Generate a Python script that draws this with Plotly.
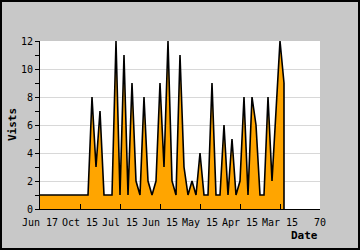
import plotly.graph_objects as go

# Data
visits = [1, 1, 1, 1, 1, 1, 1, 1, 1, 1, 1, 1, 1,
          8, 3, 7, 1, 1, 1, 12, 1, 11, 1, 9, 2, 1,
          8, 2, 1, 2, 9, 3, 12, 2, 1, 11, 3, 1, 2, 1,
          4, 1, 1, 9, 1, 1, 6, 1, 5, 1, 2, 8, 1, 8,
          6, 1, 1, 8, 2, 7, 12, 9]
day_index = list(range(len(visits)))
tick_positions = [0, 10, 20, 30, 40, 50, 60, 70]
tick_labels = ["Jun 17", "Oct 15", "Jul 15", "Jun 15", "May 15", "Apr 15", "Mar 15", "70"]

MONO = "DejaVu Sans Mono"

# close the area with a drop to zero at the last point
xs = day_index + [day_index[-1]]
ys = visits + [0]

fig = go.Figure()
fig.add_trace(go.Scatter(
    x=xs, y=ys, mode="lines", fill="tozeroy",
    fillcolor="#FFA500", line=dict(color="black", width=1.6),
    hoverinfo="skip"))

W, H = 360, 250
L, R, T, B = 40, 40, 41, 41
pw, ph = W - L - R, H - T - B

def px2x(px):
    return (px - L) / pw

def py2y(py):
    return (H - B - py) / ph

fig.update_layout(
    width=W, height=H,
    margin=dict(l=L, r=R, t=T, b=B),
    paper_bgcolor="#c8c8c8", plot_bgcolor="white",
    showlegend=False,
    font=dict(family=MONO, size=10, color="black"),
    xaxis=dict(range=[0, 70], tickvals=tick_positions, ticktext=tick_labels,
               ticks="inside", ticklen=5, tickcolor="black", tickwidth=1,
               ticklabelstandoff=4,
               showline=True, linecolor="black", linewidth=1,
               showgrid=False, zeroline=False, fixedrange=True,
               tickfont=dict(family=MONO, size=10, color="black")),
    yaxis=dict(range=[0, 12], tick0=0, dtick=2,
               ticks="outside", ticklen=4, tickcolor="black", tickwidth=1,
               minor=dict(dtick=1, ticks="outside", ticklen=4, tickcolor="black", showgrid=False),
               showline=True, linecolor="black", linewidth=1,
               showgrid=True, gridcolor="#d8d8d8", gridwidth=1,
               zeroline=False, fixedrange=True,
               tickfont=dict(family=MONO, size=10, color="black")),
    annotations=[
        dict(text="<b>Vists</b>", xref="paper", yref="paper",
             x=px2x(12), y=0.5, textangle=-90, showarrow=False,
             xanchor="center", yanchor="middle",
             font=dict(family=MONO, size=11, color="black")),
        dict(text="<b>Date</b>", xref="paper", yref="paper",
             x=1.0, y=py2y(235.5), showarrow=False,
             xanchor="right", yanchor="middle",
             font=dict(family=MONO, size=11, color="black")),
    ],
    shapes=[
        dict(type="rect", xref="paper", yref="paper",
             x0=px2x(1), x1=px2x(W - 1), y0=py2y(H - 1), y1=py2y(1),
             line=dict(color="black", width=2), layer="above"),
    ],
)

fig.write_html("out.html", config={"displayModeBar": False})
